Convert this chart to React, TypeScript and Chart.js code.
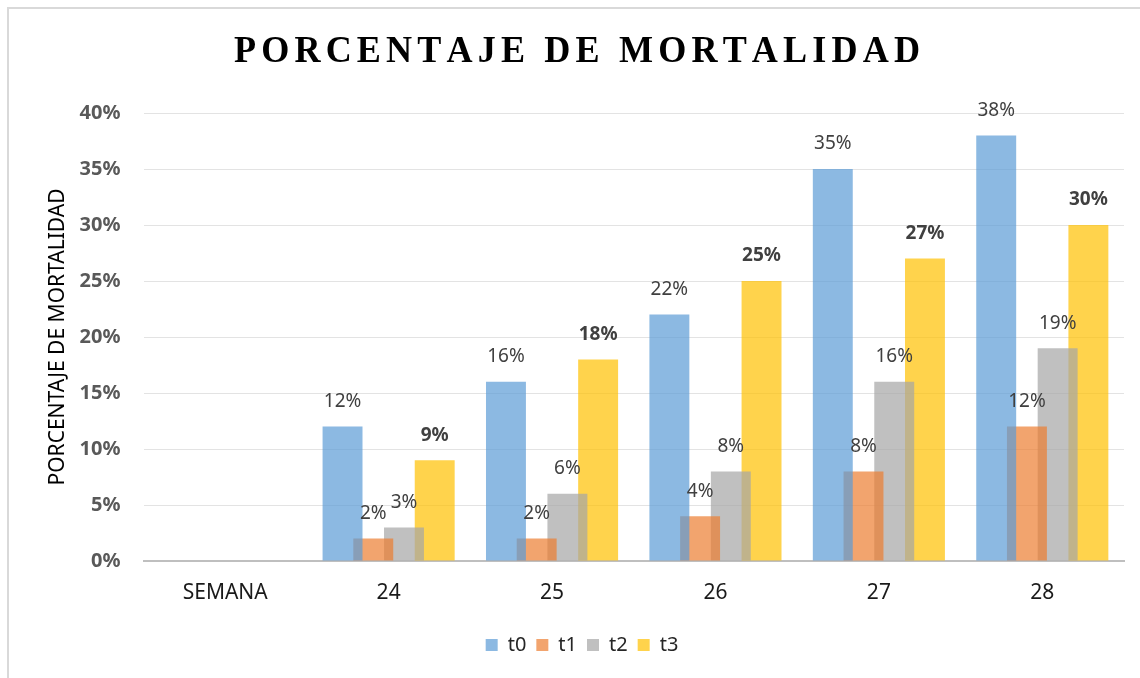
import React, { useEffect, useRef } from "react";
import { Chart, registerables } from "chart.js";

Chart.register(...registerables);

const categories = ["SEMANA", "24", "25", "26", "27", "28"];
const t0 = [0, 12, 16, 22, 35, 38];
const t1 = [0, 2, 2, 4, 8, 12];
const t2 = [0, 3, 6, 8, 16, 19];
const t3 = [0, 9, 18, 25, 27, 30];
const seriesNames = ["t0", "t1", "t2", "t3"];
const yTicks = [0, 5, 10, 15, 20, 25, 30, 35, 40];
const titleText = "PORCENTAJE DE MORTALIDAD";
const axisTitle = "PORCENTAJE DE MORTALIDAD";

const colors = [
  "rgba(91,155,213,0.7)",
  "rgba(237,125,49,0.7)",
  "rgba(165,165,165,0.7)",
  "rgba(255,192,0,0.7)",
];

const FONT = "'Noto Sans', sans-serif";

const titlePlugin = {
  id: "spacedTitle",
  afterDraw(chart: any) {
    const ctx = chart.ctx;
    ctx.save();
    ctx.font = "bold 38px 'Liberation Serif', serif";
    ctx.fillStyle = "#000";
    ctx.textAlign = "left";
    ctx.textBaseline = "middle";
    const sx = 0.95;
    const chars = titleText.split("");
    const widths = chars.map((c: string) => ctx.measureText(c).width * sx);
    const natural = widths.reduce((a: number, b: number) => a + b, 0);
    const targetW = 686;
    const gap = (targetW - natural) / (chars.length - 1);
    let x = 577 - targetW / 2;
    chars.forEach((c: string, i: number) => {
      ctx.save();
      ctx.translate(x, 52);
      ctx.scale(sx, 1);
      ctx.fillText(c, 0, 0);
      ctx.restore();
      x += widths[i] + gap;
    });
    ctx.restore();
  },
};

const labelPlugin = {
  id: "valueLabels",
  afterDatasetsDraw(chart: any) {
    const ctx = chart.ctx;
    ctx.save();
    ctx.textAlign = "center";
    ctx.textBaseline = "middle";
    chart.data.datasets.forEach((ds: any, di: number) => {
      const meta = chart.getDatasetMeta(di);
      ctx.font = (di === 3 ? "bold " : "") + "19px " + FONT;
      ctx.fillStyle = "#404040";
      meta.data.forEach((el: any, i: number) => {
        const v = ds.data[i];
        if (!v) return;
        ctx.fillText(v + "%", el.x, el.y - 25);
      });
    });
    ctx.restore();
  },
};

export default function App() {
  const ref = useRef<HTMLCanvasElement>(null);
  useEffect(() => {
    const series = [t0, t1, t2, t3];
    const chart = new Chart(ref.current!, {
      type: "bar",
      data: {
        labels: categories,
        datasets: series.map((d, i) => ({
          label: seriesNames[i],
          data: d,
          backgroundColor: colors[i],
          borderWidth: 0,
          categoryPercentage: 0.752,
          barPercentage: 1.3,
        })),
      },
      options: {
        animation: false,
        responsive: false,
        maintainAspectRatio: false,
        layout: { padding: { top: 113, right: 16, bottom: 13, left: 40 } },
        plugins: {
          title: { display: false },
          tooltip: { enabled: false },
          legend: {
            position: "bottom",
            labels: {
              boxWidth: 12,
              boxHeight: 12,
              padding: 10,
              color: "#262626",
              font: { family: FONT, size: 20 },
            },
          },
        },
        scales: {
          x: {
            grid: { display: false },
            border: { display: true, color: "#BFBFBF", width: 2 },
            ticks: {
              color: "#1a1a1a",
              padding: 11,
              font: { family: FONT, size: 21 },
            },
            afterFit: (s: any) => {
              s.height = 64;
            },
          },
          y: {
            min: 0,
            max: 40,
            afterBuildTicks: (s: any) => {
              s.ticks = yTicks.map((v) => ({ value: v }));
            },
            grid: {
              color: "#E3E3E3",
              lineWidth: 1,
              drawTicks: false,
            },
            border: { display: false },
            ticks: {
              color: "#595959",
              padding: 23,
              font: { family: FONT, size: 20, weight: "bold" },
              callback: (v: any) => v + "%",
            },
            title: {
              display: true,
              text: axisTitle,
              color: "#000",
              font: { family: FONT, size: 21 },
              padding: { top: 5, bottom: 0 },
            },
            afterFit: (s: any) => {
              s.width = 103.5;
            },
          },
        },
      },
      plugins: [titlePlugin, labelPlugin],
    } as any);
    return () => chart.destroy();
  }, []);
  return (
    <>
      <div
        style={{
          position: "fixed",
          left: 7,
          top: 7,
          width: 1300,
          height: 800,
          border: "2px solid #D9D9D9",
          pointerEvents: "none",
        }}
      />
      <div style={{ position: "fixed", left: 0, top: 0, width: 1140, height: 678 }}>
        <canvas ref={ref} width={1140} height={678} />
      </div>
    </>
  );
}
